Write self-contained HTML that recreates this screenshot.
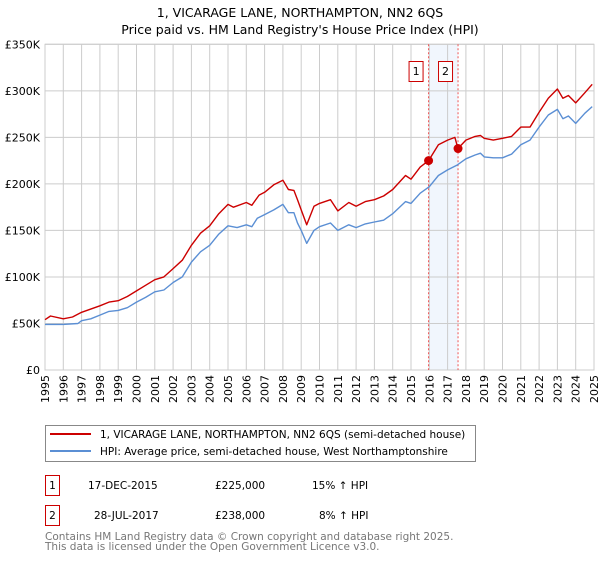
<!DOCTYPE html>
<html><head><meta charset="utf-8">
<style>
body{margin:0;background:#fff;font-family:"DejaVu Sans","Liberation Sans",sans-serif;}
svg text{font-family:"DejaVu Sans","Liberation Sans",sans-serif;}
</style></head>
<body>
<svg id="chart" width="600" height="560" viewBox="0 0 600 560" xmlns="http://www.w3.org/2000/svg">
<text x="300" y="17" text-anchor="middle" font-size="12.5">1, VICARAGE LANE, NORTHAMPTON, NN2 6QS</text>
<text x="300" y="34" text-anchor="middle" font-size="12.5">Price paid vs. HM Land Registry's House Price Index (HPI)</text>
<g id="grid"></g><g id="marks"></g><g id="axes"></g>
<g>
<rect x="45.5" y="425.5" width="430" height="36" fill="#fff" stroke="#888"/>
<line x1="50" y1="434" x2="91" y2="434" stroke="#cc0000" stroke-width="2"/>
<text x="100" y="438" font-size="10.5">1, VICARAGE LANE, NORTHAMPTON, NN2 6QS (semi-detached house)</text>
<line x1="50" y1="451" x2="91" y2="451" stroke="#5b8fd4" stroke-width="2"/>
<text x="100" y="455" font-size="10.5">HPI: Average price, semi-detached house, West Northamptonshire</text>
</g>
<g font-size="10.5">
<rect x="45.5" y="475.5" width="14" height="20" fill="#fff" stroke="#cc0000"/>
<text x="52.5" y="489" text-anchor="middle">1</text>
<text x="88" y="489">17-DEC-2015</text><text x="215" y="489">£225,000</text><text x="312" y="489">15% ↑ HPI</text>
<rect x="45.5" y="505.5" width="14" height="20" fill="#fff" stroke="#cc0000"/>
<text x="52.5" y="519" text-anchor="middle">2</text>
<text x="94" y="519">28-JUL-2017</text><text x="215" y="519">£238,000</text><text x="319" y="519">8% ↑ HPI</text>
</g>
<text x="45" y="540" font-size="10.5" fill="#777">Contains HM Land Registry data © Crown copyright and database right 2025.</text>
<text x="45" y="550" font-size="10.5" fill="#777">This data is licensed under the Open Government Licence v3.0.</text>
</svg>
<script>
const yTicks=[0,50,100,150,200,250,300,350];
const yTickLabels=["£0","£50K","£100K","£150K","£200K","£250K","£300K","£350K"];
const xYears=[1995,1996,1997,1998,1999,2000,2001,2002,2003,2004,2005,2006,2007,2008,2009,2010,2011,2012,2013,2014,2015,2016,2017,2018,2019,2020,2021,2022,2023,2024,2025];
const hpiDates=[1995,1996,1996.8,1997,1997.5,1998,1998.5,1999,1999.5,2000,2000.5,2001,2001.5,2002,2002.5,2003,2003.5,2004,2004.5,2005,2005.5,2006,2006.3,2006.6,2007,2007.5,2008,2008.3,2008.6,2008.8,2009,2009.3,2009.7,2010,2010.6,2011,2011.6,2012,2012.5,2013,2013.5,2014,2014.7,2015,2015.5,2016,2016.5,2017,2017.5,2018,2018.5,2018.8,2019,2019.5,2020,2020.5,2021,2021.5,2022,2022.5,2023,2023.3,2023.6,2024,2024.5,2024.9];
const hpiValues=[49,49,50,53,55,59,63,64,67,73,78,84,86,94,100,116,127,134,146,155,153,156,154,163,167,172,178,169,169,158,150,136,150,154,158,150,156,153,157,159,161,168,181,179,190,197,209,215,220,227,231,233,229,228,228,232,242,247,261,274,280,270,273,265,276,283];
const priceDates=[1995,1995.3,1996,1996.5,1997,1998,1998.5,1999,1999.5,2000,2000.5,2001,2001.5,2002,2002.5,2003,2003.5,2004,2004.5,2005,2005.3,2006,2006.3,2006.7,2007,2007.5,2008,2008.3,2008.6,2008.8,2009,2009.3,2009.7,2010,2010.6,2011,2011.6,2012,2012.5,2013,2013.5,2014,2014.7,2015,2015.5,2015.96,2016.5,2017,2017.4,2017.57,2018,2018.5,2018.8,2019,2019.5,2020,2020.5,2021,2021.5,2022,2022.5,2023,2023.3,2023.6,2024,2024.5,2024.9];
const priceValues=[54,58,55,57,62,69,73,74.5,79,85,91,97,100,109,118,134,147,155,168,178,175,180,177,188,191,199,204,194,193,183,172,156,176,179,183,171,180,176,181,183,187,194,209,205,218,225,242,247,250,238,247,251,252,249,247,249,251,261,261,277,292,302,292,295,287,298,307];
const saleDates=[2015.96,2017.57];
const saleValues=[225,238];
const saleLabels=["1","2"];
const NS="http://www.w3.org/2000/svg";
const X0=45,X1=594,Y0=370,Y1=44.3;
function xs(t){return X0+(t-1995)/30*(X1-X0);}
function ys(v){return Y0-v/350*(Y0-Y1);}
function mk(tag,attrs,parent){const e=document.createElementNS(NS,tag);for(const k in attrs)e.setAttribute(k,attrs[k]);parent.appendChild(e);return e;}
const grid=document.getElementById('grid'),marks=document.getElementById('marks'),axes=document.getElementById('axes');
const band=mk('rect',{x:xs(saleDates[0]),y:Y1,width:xs(saleDates[1])-xs(saleDates[0]),height:Y0-Y1,fill:'#eef4fd',opacity:0.8},grid);


yTicks.forEach((v,i)=>{
 const l=mk('line',{x1:X0,x2:X1,y1:ys(v),y2:ys(v),stroke:'#cccccc'},grid);
 
 
 const t=mk('text',{x:40,y:ys(v)+4,'text-anchor':'end','font-size':11},axes);
 t.textContent=yTickLabels[i];
 
 
});
xYears.forEach(yr=>{
 const x=xs(yr);
 const l=mk('line',{x1:x,x2:x,y1:Y1,y2:Y0,stroke:'#cccccc'},grid);
 
 
 const t=mk('text',{x:x+4,y:Y0+5,'text-anchor':'end','font-size':11,transform:`rotate(-90 ${x+4} ${Y0+5})`},axes);
 t.textContent=yr;
 
 
});
mk('rect',{x:X0,y:Y1,width:X1-X0,height:Y0-Y1,fill:'none',stroke:'#cccccc'},grid);
saleDates.forEach((d,i)=>{
 const l=mk('line',{x1:xs(d),x2:xs(d),y1:Y1,y2:Y0,stroke:'#ee5555','stroke-dasharray':'2,2'},grid);
 
 
 const r=mk('rect',{x:xs(d)-19.5,y:61.5,width:14,height:20,fill:'#fff',stroke:'#cc0000'},axes);
 
 
 const t=mk('text',{x:xs(d)-12.5,y:75,'text-anchor':'middle','font-size':11},axes);
 t.textContent=saleLabels[i];
 
 
});
function line(dates,vals,color,name){
 const p=mk('polyline',{points:dates.map((d,i)=>xs(d).toFixed(1)+','+ys(vals[i]).toFixed(1)).join(' '),fill:'none',stroke:color,'stroke-width':1.4,'stroke-linejoin':'round'},marks);
 
 
}
line(hpiDates,hpiValues,'#5b8fd4','hpi-line');
line(priceDates,priceValues,'#cc0000','price-paid-line');
saleDates.forEach((d,i)=>{
 const c=mk('circle',{cx:xs(d),cy:ys(saleValues[i]),r:4.5,fill:'#cc0000'},marks);
 
 
});
</script>
</body></html>
